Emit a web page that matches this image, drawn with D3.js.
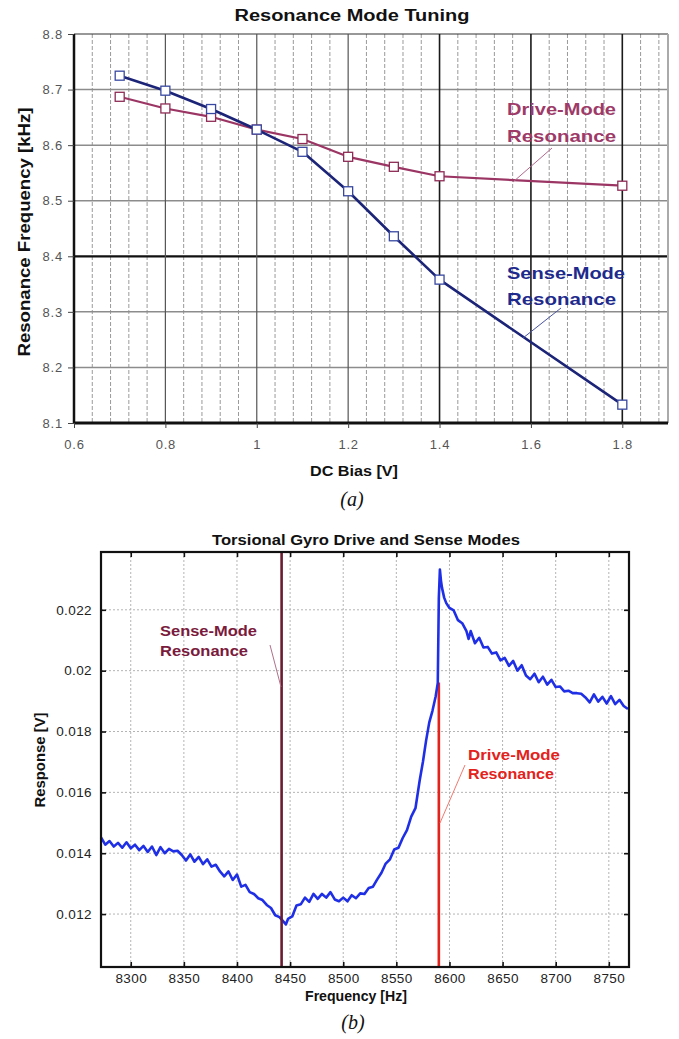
<!DOCTYPE html>
<html>
<head>
<meta charset="utf-8">
<script src="https://cdn.jsdelivr.net/npm/d3@7"></script>
<style>
  body { margin: 0; background: #fff; }
  svg { display: block; font-family: "Liberation Sans", Arial, sans-serif; }
</style>
</head>
<body>
<svg id="fig" width="679" height="1039"></svg>
<script>
// ── (a) Resonance mode tuning ───────────────────────────────────────────────
const biasV    = [0.7, 0.8, 0.9, 1.0, 1.1, 1.2, 1.3, 1.4, 1.8];
const senseKHz = [8.725, 8.698, 8.665, 8.628, 8.588, 8.517, 8.436, 8.358, 8.133];
const driveKHz = [8.687, 8.666, 8.651, 8.628, 8.611, 8.579, 8.561, 8.544, 8.527];
const biasTicks      = [0.6, 0.8, 1.0, 1.2, 1.4, 1.6, 1.8];
const biasTickLabels = ["0.6", "0.8", "1", "1.2", "1.4", "1.6", "1.8"];
const kHzTicks       = [8.1, 8.2, 8.3, 8.4, 8.5, 8.6, 8.7, 8.8];
const kHzTickLabels  = ["8.1", "8.2", "8.3", "8.4", "8.5", "8.6", "8.7", "8.8"];

// ── (b) Torsional gyro sweep ───────────────────────────────────────────────
const sweepHz = [
  8272, 8276, 8280, 8284, 8288, 8292, 8296, 8300, 8304, 8308, 8312, 8316, 8320, 8324,
  8328, 8332, 8336, 8340, 8344, 8348, 8352, 8356, 8360, 8364, 8368, 8372, 8376, 8380,
  8384, 8388, 8392, 8396, 8400, 8404, 8408, 8412, 8416, 8420, 8424, 8428, 8432, 8436,
  8440, 8444, 8446, 8448, 8452, 8456, 8460, 8464, 8468, 8472, 8476, 8480, 8484, 8488,
  8492, 8496, 8500, 8504, 8508, 8512, 8516, 8520, 8524, 8528, 8532, 8536, 8540, 8544,
  8548, 8552, 8556, 8560, 8564, 8568, 8572, 8575, 8578, 8581, 8584, 8587, 8589, 8590,
  8591, 8592, 8593, 8595, 8597, 8600, 8604, 8608, 8612, 8616, 8618, 8620, 8624, 8628,
  8632, 8636, 8640, 8644, 8648, 8652, 8656, 8660, 8664, 8668, 8672, 8676, 8680, 8684,
  8688, 8692, 8696, 8700, 8704, 8708, 8712, 8716, 8720, 8724, 8728, 8732, 8736, 8740,
  8744, 8748, 8752, 8756, 8760, 8764, 8768
];
const responseV = [
  0.01452, 0.01428, 0.01440, 0.01422, 0.01434, 0.01418, 0.01436, 0.01416, 0.01428, 0.01410, 0.01424, 0.01404, 0.01422, 0.01394,
  0.01420, 0.01400, 0.01414, 0.01406, 0.01408, 0.01394, 0.01376, 0.01396, 0.01372, 0.01388, 0.01364, 0.01380, 0.01356, 0.01362,
  0.01340, 0.01324, 0.01340, 0.01312, 0.01330, 0.01290, 0.01296, 0.01272, 0.01266, 0.01252, 0.01246, 0.01230, 0.01220, 0.01196,
  0.01190, 0.01174, 0.01166, 0.01184, 0.01192, 0.01228, 0.01232, 0.01254, 0.01240, 0.01266, 0.01250, 0.01266, 0.01254, 0.01272,
  0.01248, 0.01242, 0.01254, 0.01242, 0.01262, 0.01252, 0.01268, 0.01266, 0.01286, 0.01290, 0.01314, 0.01336, 0.01366, 0.01380,
  0.01412, 0.01418, 0.01450, 0.01476, 0.01520, 0.01548, 0.01640, 0.01700, 0.01770, 0.01830, 0.01868, 0.01915, 0.01960, 0.02240,
  0.02332, 0.02296, 0.02272, 0.02240, 0.02222, 0.02206, 0.02198, 0.02166, 0.02156, 0.02130, 0.02104, 0.02130, 0.02090, 0.02108,
  0.02076, 0.02078, 0.02056, 0.02060, 0.02034, 0.02042, 0.02016, 0.02032, 0.02000, 0.02018, 0.01984, 0.01972, 0.01990, 0.01962,
  0.01980, 0.01954, 0.01970, 0.01946, 0.01948, 0.01932, 0.01934, 0.01926, 0.01926, 0.01924, 0.01912, 0.01896, 0.01922, 0.01898,
  0.01914, 0.01892, 0.01916, 0.01890, 0.01904, 0.01884, 0.01874
];
const senseResHz = 8442;
const driveResHz = 8590;
const driveResTopV = 0.01961;
const hzTicks      = [8300, 8350, 8400, 8450, 8500, 8550, 8600, 8650, 8700, 8750];
const vTicks       = [0.012, 0.014, 0.016, 0.018, 0.020, 0.022];
const vTickLabels  = ["0.012", "0.014", "0.016", "0.018", "0.02", "0.022"];

const svg = d3.select("#fig");

// text helper: bold label, optionally stretched to a width / rotated
function label(g, x, y, str, o) {
  const t = g.append("text").attr("x", x).attr("y", y).text(str)
    .attr("font-size", o.size).attr("font-weight", o.weight || "bold")
    .attr("fill", o.fill || "#111").attr("text-anchor", o.anchor || "start");
  if (o.family) t.attr("font-family", o.family);
  if (o.style) t.attr("font-style", o.style);
  if (o.len) t.attr("textLength", o.len).attr("lengthAdjust", "spacingAndGlyphs");
  if (o.rotate) t.attr("transform", `rotate(-90 ${x} ${y})`);
  return t;
}

// ── Chart (a) ─────────────────────────────────────────────────────────────
(function () {
  const L = 74, R = 668, T = 34, B = 423;
  const x = d3.scaleLinear().domain([0.6, 1.9]).range([L, R]);
  const y = d3.scaleLinear().domain([8.1, 8.8]).range([B, T]);
  const g = svg.append("g");

  // minor dashed verticals every 0.04 V
  g.append("g").selectAll("line")
    .data(d3.range(0.64, 1.895, 0.04).filter((v) => Math.abs(((v - 0.6) / 0.2) - Math.round((v - 0.6) / 0.2)) > 0.01))
    .join("line")
    .attr("x1", (d) => x(d)).attr("x2", (d) => x(d)).attr("y1", T).attr("y2", B)
    .attr("stroke", "#9a9a9a").attr("stroke-width", 1).attr("stroke-dasharray", "4,2");

  // horizontal grid
  g.append("g").selectAll("line").data(kHzTicks.slice(1)).join("line")
    .attr("x1", L).attr("x2", R).attr("y1", (d) => y(d)).attr("y2", (d) => y(d))
    .attr("stroke", (d) => (d === 8.4 ? "#111" : d === 8.8 ? "#333" : "#8c8c8c"))
    .attr("stroke-width", (d) => (d === 8.4 ? 2.2 : d === 8.8 ? 1.2 : 1.5));

  // major verticals
  g.append("g").selectAll("line").data(biasTicks.slice(1)).join("line")
    .attr("x1", (d) => x(d)).attr("x2", (d) => x(d)).attr("y1", T).attr("y2", B)
    .attr("stroke", (d) => (d >= 1.4 ? "#1a1a1a" : "#555"))
    .attr("stroke-width", (d) => (d >= 1.4 ? 1.6 : 1.2));

  // frame
  g.append("line").attr("x1", R).attr("x2", R).attr("y1", T).attr("y2", B)
    .attr("stroke", "#aaa").attr("stroke-width", 2);
  g.append("line").attr("x1", L).attr("x2", L).attr("y1", T).attr("y2", B + 1)
    .attr("stroke", "#111").attr("stroke-width", 2.5);
  g.append("line").attr("x1", L).attr("x2", R).attr("y1", B).attr("y2", B)
    .attr("stroke", "#111").attr("stroke-width", 3);

  // axes
  const ax = g.append("g").attr("transform", `translate(0,${B})`)
    .call(d3.axisBottom(x).tickValues(biasTicks).tickFormat((d, i) => biasTickLabels[i])
      .tickSizeInner(5).tickSizeOuter(0).tickPadding(12));
  const ay = g.append("g").attr("transform", `translate(${L},0)`)
    .call(d3.axisLeft(y).tickValues(kHzTicks).tickFormat((d, i) => kHzTickLabels[i])
      .tickSizeInner(6).tickSizeOuter(0).tickPadding(5));
  [ax, ay].forEach((a) => {
    a.select(".domain").remove();
    a.selectAll(".tick line").attr("stroke", "#444");
    a.selectAll(".tick text").attr("fill", "#555").attr("font-size", 13)
      .attr("font-family", "Liberation Sans, Arial, sans-serif").attr("letter-spacing", "0.8px");
  });

  // series
  const line = d3.line().x((d) => x(d[0])).y((d) => y(d[1]));
  const series = [
    { vals: driveKHz, color: "#9b3563", mark: "#8e2c55", w: 2.2 },
    { vals: senseKHz, color: "#1c2478", mark: "#3848a0", w: 2.6 },
  ];
  series.forEach((s) => {
    const pts = biasV.map((b, i) => [b, s.vals[i]]);
    g.append("path").datum(pts).attr("d", line).attr("fill", "none")
      .attr("stroke", s.color).attr("stroke-width", s.w).attr("stroke-linejoin", "round");
    g.append("g").selectAll("rect").data(pts).join("rect")
      .attr("x", (d) => x(d[0]) - 4.5).attr("y", (d) => y(d[1]) - 4.5)
      .attr("width", 9).attr("height", 9)
      .attr("fill", "#fff").attr("stroke", s.mark).attr("stroke-width", 1.3);
  });

  // annotations
  const drv = "#9e3a68", sen = "#1e2a8c";
  g.append("line").attr("x1", 552).attr("y1", 148).attr("x2", 513).attr("y2", 182)
    .attr("stroke", "#b06a8c").attr("stroke-width", 1);
  label(g, 507, 115, "Drive-Mode", { size: 17, fill: drv, len: 109 });
  label(g, 507, 142, "Resonance", { size: 17, fill: drv, len: 109 });
  g.append("line").attr("x1", 561).attr("y1", 308).attr("x2", 523).attr("y2", 338)
    .attr("stroke", "#4a55a0").attr("stroke-width", 1);
  label(g, 507, 279, "Sense-Mode", { size: 17, fill: sen, len: 118 });
  label(g, 507, 305, "Resonance", { size: 17, fill: sen, len: 109 });

  // titles
  label(g, 352, 21, "Resonance Mode Tuning", { size: 16, anchor: "middle", len: 235 });
  label(g, 354, 476, "DC Bias [V]", { size: 14, anchor: "middle", len: 88 });
  label(g, 30, 232, "Resonance Frequency [kHz]", { size: 17, anchor: "middle", len: 249, rotate: true });
  label(g, 352, 506, "(a)", { size: 20, anchor: "middle", weight: "normal",
    family: "Liberation Serif, Times New Roman, serif", style: "italic" });
})();

// ── Chart (b) ─────────────────────────────────────────────────────────────
(function () {
  const L = 101, R = 629, T = 552, B = 967;
  const x = d3.scaleLinear().domain([8272, 8769]).range([L, R]);
  const y = d3.scaleLinear().domain([0.01026, 0.0239]).range([B, T]);
  const g = svg.append("g");

  // dotted grid
  g.append("g").selectAll("line").data(hzTicks).join("line")
    .attr("x1", (d) => x(d)).attr("x2", (d) => x(d)).attr("y1", T).attr("y2", B)
    .attr("stroke", "#b4b4b4").attr("stroke-width", 1).attr("stroke-dasharray", "2,2");
  g.append("g").selectAll("line").data(vTicks).join("line")
    .attr("x1", L).attr("x2", R).attr("y1", (d) => y(d)).attr("y2", (d) => y(d))
    .attr("stroke", "#b4b4b4").attr("stroke-width", 1).attr("stroke-dasharray", "2,2");

  // drive-mode marker (behind the response)
  g.append("line").attr("x1", x(driveResHz)).attr("x2", x(driveResHz))
    .attr("y1", B).attr("y2", y(driveResTopV))
    .attr("stroke", "#e3221c").attr("stroke-width", 2.6);

  // measured response
  const pts = sweepHz.map((f, i) => [f, responseV[i]]);
  g.append("path").datum(pts)
    .attr("d", d3.line().x((d) => x(d[0])).y((d) => y(d[1])))
    .attr("fill", "none").attr("stroke", "#1f2fe6").attr("stroke-width", 2.6)
    .attr("stroke-linejoin", "round");

  // sense-mode marker
  g.append("line").attr("x1", x(senseResHz)).attr("x2", x(senseResHz)).attr("y1", T).attr("y2", B)
    .attr("stroke", "#6b1c30").attr("stroke-width", 2.6);

  // axes with inward ticks on all four sides
  const fmt = (d, i) => vTickLabels[i];
  const axes = [
    g.append("g").attr("transform", `translate(0,${B})`)
      .call(d3.axisBottom(x).tickValues(hzTicks).tickFormat(d3.format("d"))
        .tickSizeInner(-5).tickSizeOuter(0).tickPadding(6)),
    g.append("g").attr("transform", `translate(0,${T})`)
      .call(d3.axisTop(x).tickValues(hzTicks).tickSizeInner(-5).tickSizeOuter(0).tickFormat("")),
    g.append("g").attr("transform", `translate(${L},0)`)
      .call(d3.axisLeft(y).tickValues(vTicks).tickFormat(fmt).tickSizeInner(-5).tickSizeOuter(0).tickPadding(9)),
    g.append("g").attr("transform", `translate(${R},0)`)
      .call(d3.axisRight(y).tickValues(vTicks).tickSizeInner(-5).tickSizeOuter(0).tickFormat("")),
  ];
  axes.forEach((a) => {
    a.select(".domain").remove();
    a.selectAll(".tick line").attr("stroke", "#111").attr("stroke-width", 1.6);
    a.selectAll(".tick text").attr("fill", "#222").attr("font-size", 13.5)
      .attr("font-family", "Liberation Sans, Arial, sans-serif").attr("letter-spacing", "0.4px");
  });
  g.append("rect").attr("x", L).attr("y", T).attr("width", R - L).attr("height", B - T)
    .attr("fill", "none").attr("stroke", "#111").attr("stroke-width", 2.2);

  // annotations
  const sen = "#7a1a3c", drv = "#e3221c";
  g.append("line").attr("x1", 270).attr("y1", 645).attr("x2", 281).attr("y2", 687)
    .attr("stroke", "#b07088").attr("stroke-width", 1);
  label(g, 160, 636, "Sense-Mode", { size: 15, fill: sen, len: 97 });
  label(g, 160, 656, "Resonance", { size: 15, fill: sen, len: 88 });
  g.append("line").attr("x1", 465).attr("y1", 765).attr("x2", 440).attr("y2", 823)
    .attr("stroke", "#f07a70").attr("stroke-width", 1);
  label(g, 468, 760, "Drive-Mode", { size: 15, fill: drv, len: 92 });
  label(g, 468, 779, "Resonance", { size: 15, fill: drv, len: 86 });

  // titles
  label(g, 366, 545, "Torsional Gyro Drive and Sense Modes", { size: 15, anchor: "middle", len: 308 });
  label(g, 356, 1001, "Frequency [Hz]", { size: 14, anchor: "middle", len: 102 });
  label(g, 45, 760, "Response [V]", { size: 14, anchor: "middle", len: 95, rotate: true });
  label(g, 353, 1029, "(b)", { size: 20, anchor: "middle", weight: "normal",
    family: "Liberation Serif, Times New Roman, serif", style: "italic" });
})();
</script>
</body>
</html>
